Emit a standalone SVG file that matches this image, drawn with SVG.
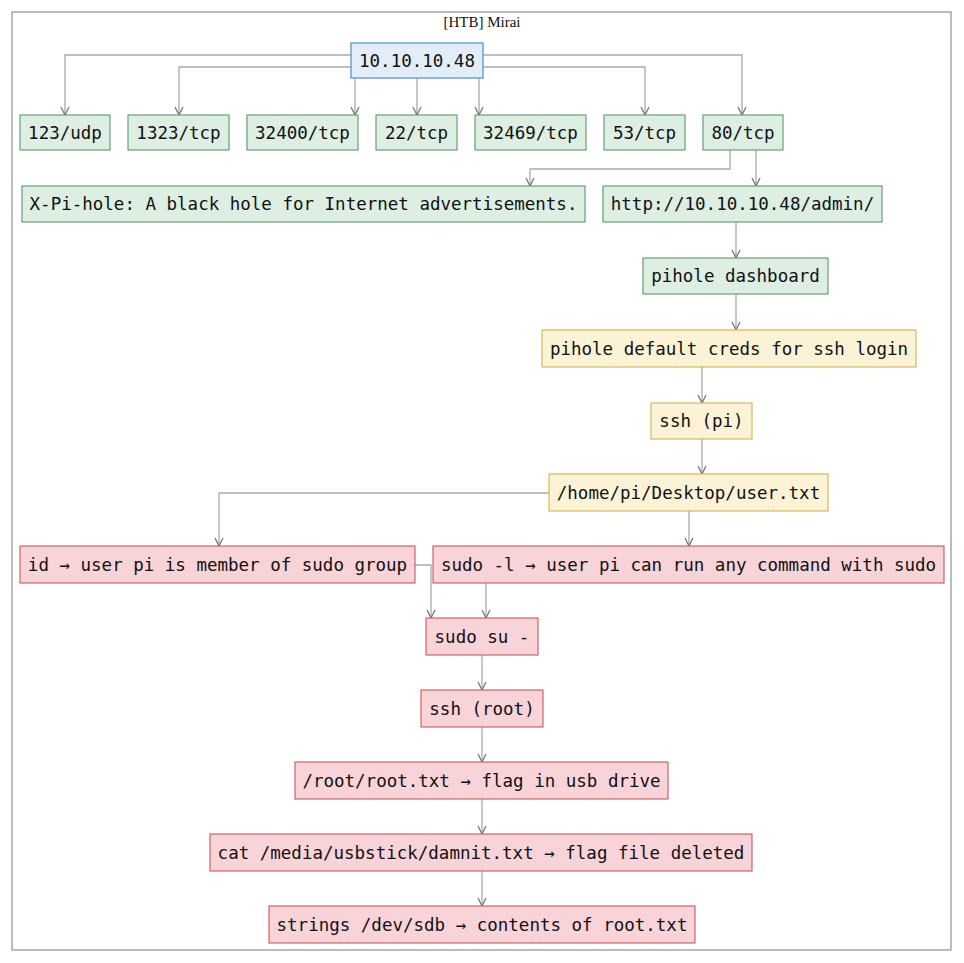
<svg xmlns="http://www.w3.org/2000/svg" width="964" height="963" viewBox="0 0 964 963">
<style>
.t{font-family:"DejaVu Sans Mono","Liberation Mono",monospace;font-size:17.5px;fill:#111;text-anchor:middle;dominant-baseline:central}
.blue{fill:#e3edf7;stroke:#4d9ad4;stroke-width:1.3}
.green{fill:#dcefe2;stroke:#5a9a6c;stroke-width:1.1}
.yellow{fill:#fcf3d6;stroke:#d2b24e;stroke-width:1.1}
.red{fill:#f8d3d8;stroke:#c9585c;stroke-width:1.1}
.e{fill:none;stroke:#aaaaaa;stroke-width:1.3}
</style>
<defs>
<marker id="a" viewBox="0 0 10 10" refX="10" refY="5" markerWidth="10" markerHeight="10" markerUnits="userSpaceOnUse" orient="auto">
<path d="M2,1 L10,5 L2,9" fill="none" stroke="#777" stroke-width="1.3"/>
</marker>
</defs>
<rect x="0" y="0" width="964" height="963" fill="#fff"/>
<rect x="12" y="12" width="939" height="938" fill="#fff" stroke="#999" stroke-width="1.3"/>
<text x="482" y="22" font-family="'Liberation Serif','DejaVu Serif',serif" font-size="15" text-anchor="middle" dominant-baseline="central" fill="#111">[HTB] Mirai</text>
<g id="edges">
<path class="e" marker-end="url(#a)" d="M351,55 H65 V115"/>
<path class="e" marker-end="url(#a)" d="M351,67 H179 V115"/>
<path class="e" marker-end="url(#a)" d="M355,78 V115"/>
<path class="e" marker-end="url(#a)" d="M417,78 V115"/>
<path class="e" marker-end="url(#a)" d="M479,78 V115"/>
<path class="e" marker-end="url(#a)" d="M483,67 H645 V115"/>
<path class="e" marker-end="url(#a)" d="M483,55 H742 V115"/>
<path class="e" marker-end="url(#a)" d="M730,150 V169 H530 V186"/>
<path class="e" marker-end="url(#a)" d="M756,150 V186"/>
<path class="e" marker-end="url(#a)" d="M736,222 V258"/>
<path class="e" marker-end="url(#a)" d="M736,294 V330"/>
<path class="e" marker-end="url(#a)" d="M702,367 V403"/>
<path class="e" marker-end="url(#a)" d="M702,439 V474"/>
<path class="e" marker-end="url(#a)" d="M549,493 H219 V546"/>
<path class="e" marker-end="url(#a)" d="M689,511 V546"/>
<path class="e" marker-end="url(#a)" d="M415,565 H431 V618"/>
<path class="e" marker-end="url(#a)" d="M486,583 V618"/>
<path class="e" marker-end="url(#a)" d="M482,655 V690"/>
<path class="e" marker-end="url(#a)" d="M482,727 V762"/>
<path class="e" marker-end="url(#a)" d="M482,799 V834"/>
<path class="e" marker-end="url(#a)" d="M482,871 V906"/>
</g>
<g id="n_ip"><rect class="blue" x="351" y="43" width="132" height="35"/><text class="t" x="417" y="60.5">10.10.10.48</text></g>
<g id="n_123"><rect class="green" x="20" y="115" width="90" height="35"/><text class="t" x="65" y="132.5">123/udp</text></g>
<g id="n_1323"><rect class="green" x="128" y="115" width="101" height="35"/><text class="t" x="178.5" y="132.5">1323/tcp</text></g>
<g id="n_32400"><rect class="green" x="247" y="115" width="111" height="35"/><text class="t" x="302.5" y="132.5">32400/tcp</text></g>
<g id="n_22"><rect class="green" x="376" y="115" width="81" height="35"/><text class="t" x="416.5" y="132.5">22/tcp</text></g>
<g id="n_32469"><rect class="green" x="475" y="115" width="111" height="35"/><text class="t" x="530.5" y="132.5">32469/tcp</text></g>
<g id="n_53"><rect class="green" x="604" y="115" width="81" height="35"/><text class="t" x="644.5" y="132.5">53/tcp</text></g>
<g id="n_80"><rect class="green" x="703" y="115" width="80" height="35"/><text class="t" x="743" y="132.5">80/tcp</text></g>
<g id="n_xpi"><rect class="green" x="22" y="186" width="563" height="36"/><text class="t" x="303.5" y="204">X-Pi-hole: A black hole for Internet advertisements.</text></g>
<g id="n_http"><rect class="green" x="603" y="186" width="279" height="36"/><text class="t" x="742.5" y="204">http://10.10.10.48/admin/</text></g>
<g id="n_dash"><rect class="green" x="643" y="258" width="185" height="36"/><text class="t" x="735.5" y="276">pihole dashboard</text></g>
<g id="n_creds"><rect class="yellow" x="542" y="330" width="374" height="37"/><text class="t" x="729" y="348.5">pihole default creds for ssh login</text></g>
<g id="n_sshpi"><rect class="yellow" x="651" y="403" width="101" height="36"/><text class="t" x="701.5" y="421">ssh (pi)</text></g>
<g id="n_user"><rect class="yellow" x="549" y="474" width="279" height="37"/><text class="t" x="688.5" y="492.5">/home/pi/Desktop/user.txt</text></g>
<g id="n_id"><rect class="red" x="20" y="546" width="395" height="37"/><text class="t" x="217.5" y="564.5">id → user pi is member of sudo group</text></g>
<g id="n_sudol"><rect class="red" x="433" y="546" width="511" height="37"/><text class="t" x="688.5" y="564.5">sudo -l → user pi can run any command with sudo</text></g>
<g id="n_sudosu"><rect class="red" x="426" y="618" width="112" height="37"/><text class="t" x="482" y="636.5">sudo su -</text></g>
<g id="n_sshroot"><rect class="red" x="421" y="690" width="122" height="37"/><text class="t" x="482" y="708.5">ssh (root)</text></g>
<g id="n_root"><rect class="red" x="295" y="762" width="373" height="37"/><text class="t" x="481.5" y="780.5">/root/root.txt → flag in usb drive</text></g>
<g id="n_cat"><rect class="red" x="210" y="834" width="542" height="37"/><text class="t" x="481" y="852.5">cat /media/usbstick/damnit.txt → flag file deleted</text></g>
<g id="n_strings"><rect class="red" x="269" y="906" width="426" height="37"/><text class="t" x="482" y="924.5">strings /dev/sdb → contents of root.txt</text></g>
</svg>
